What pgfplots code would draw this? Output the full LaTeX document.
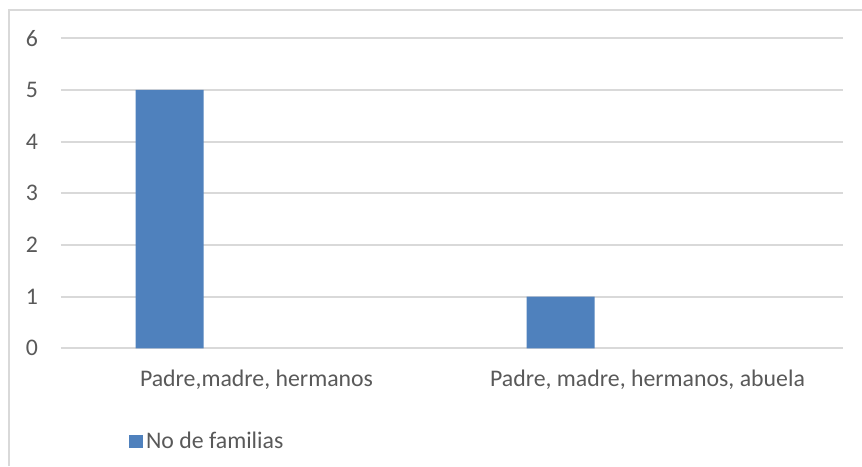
\documentclass[border=0pt]{standalone}
\usepackage{pgfplots}
\pgfplotsset{compat=1.18}
\usepackage{fontspec}
\setmainfont{Carlito}
\definecolor{barblue}{HTML}{4F81BD}
\definecolor{txtgray}{HTML}{595959}
\definecolor{gridgray}{HTML}{D9D9D9}
\definecolor{bordergray}{HTML}{D9D9D9}
\begin{document}
\begin{tikzpicture}
\path[use as bounding box] (0,0) rectangle (431pt,-233pt);
\draw[bordergray, line width=1pt] (4.4pt,-233pt) -- (4.4pt,-4.75pt) -- (431pt,-4.75pt);
\begin{axis}[
  at={(30.5pt,-174.15pt)}, anchor=south west,
  scale only axis, width=391pt, height=155pt,
  xmin=-0.5, xmax=1.5, ymin=0, ymax=6,
  xtick={0,1},
  xticklabels={{Padre,madre, hermanos},{Padre, madre, hermanos, abuela}},
  ytick={0,1,2,3,4,5,6},
  ymajorgrids,
  grid style={gridgray, line width=1pt},
  axis line style={draw=none},
  major tick length=0pt,
  /pgf/number format/assume math mode=true,
  tick label style={font=\fontsize{11.9pt}{14pt}\selectfont, text=txtgray},
  xticklabel style={anchor=center, yshift=-15.6pt},
  yticklabel style={anchor=center, xshift=-14.5pt},
  clip=false,
  legend style={at={(0.087,-0.3006)}, anchor=west, draw=none, fill=none,
    inner sep=0pt, font=\fontsize{11.9pt}{14pt}\selectfont, text=txtgray,
    nodes={inner sep=1.3pt}},
  legend image code/.code={\fill[barblue] (0pt,-3.25pt) rectangle (7pt,3.25pt);},
]
\addplot[ybar, fill=barblue, draw=none, bar width=0.174, bar shift=-0.222]
  coordinates {(0,5) (1,1)};
\addlegendentry{No de familias}
\end{axis}
\end{tikzpicture}
\end{document}
